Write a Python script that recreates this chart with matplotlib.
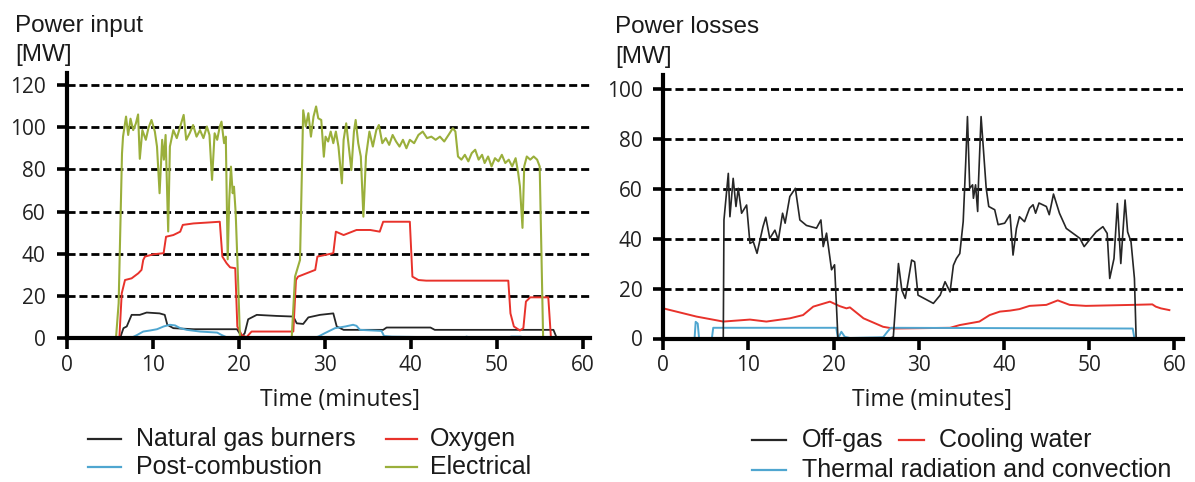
import matplotlib
matplotlib.use('Agg')
from matplotlib import pyplot as plt
from matplotlib.lines import Line2D

W, H = 1195, 482

# --- power input (left panel) ---
gas_t = [6.2, 6.6, 6.98, 7.55, 8.5, 9.3, 10.8, 11.4, 11.7, 12.4, 14.75, 19.8, 20.35, 20.7, 21.1,
         22.1, 24.4, 26.35, 26.75, 27.5, 28.1, 29.45, 31.0, 31.4, 32.2, 36.8, 37.2, 42.3, 42.8,
         56.6, 57.0]
gas_v = [0, 4.8, 5.6, 11.1, 11.1, 12.2, 11.8, 11.1, 6.4, 4.8, 4.3, 4.3, 0.8, 2.4, 9.0,
         11.1, 10.6, 10.3, 7.1, 6.8, 9.9, 11.1, 11.8, 5.6, 4.0, 4.0, 5.1, 5.1, 4.0,
         4.0, 0]

post_t = [7.4, 8.2, 8.9, 9.7, 10.5, 11.27, 12.0, 12.6, 13.2, 13.97, 15.5, 17.5, 18.0, 18.6, 19.4,
          28.5, 29.25, 30.0, 31.2, 32.4, 33.3, 33.7, 34.1, 36.6, 36.9, 37.8, 42.8, 43.2, 45.9,
          46.5, 47.2, 50.9, 51.7, 52.8, 53.4, 56.0]
post_v = [0, 1.6, 3.2, 3.7, 4.3, 5.6, 6.4, 6.1, 4.8, 4.0, 3.2, 2.7, 1.6, 0.5, 0,
          0, 0.8, 2.4, 4.8, 5.6, 6.4, 5.9, 4.0, 3.5, 1.1, 0.8, 0.5, 0, 0,
          0.8, 0, 0, 0.8, 0.8, 0, 0]

oxy_t = [6.12, 6.4, 6.78, 7.55, 8.33, 8.7, 8.9, 9.1, 10.1, 11.27, 11.55, 12.4, 13.2, 13.5, 14.75,
         16.3, 17.8, 18.1, 18.6, 19.0, 19.6, 19.84, 20.35, 20.9, 21.5, 26.35, 26.66, 26.9, 28.9,
         29.15, 31.0, 31.3, 32.2, 33.7, 35.3, 36.4, 36.8, 38.4, 39.9, 40.2, 40.9, 41.8, 45.3,
         49.2, 51.35, 51.6, 52.0, 52.7, 53.1, 53.4, 53.9, 56.0, 56.3, 56.8]
oxy_v = [0, 21.3, 27.6, 28.4, 30.8, 32.4, 37.1, 38.7, 39.8, 40.3, 48.1, 48.9, 50.5, 53.7, 54.4,
         54.8, 55.2, 38.7, 35.5, 33.6, 33.2, 5.6, 1.6, 0.5, 3.2, 3.2, 27.6, 29.2, 32.4,
         38.7, 40.3, 50.5, 48.9, 51.3, 51.3, 50.5, 55.2, 55.2, 55.2, 29.2, 27.6, 27.3, 27.3,
         27.3, 27.3, 11.8, 5.6, 3.7, 4.8, 17.4, 19.4, 19.4, 0.8, 0]

elec_t = [5.73, 6.04, 6.43, 6.55, 6.9, 7.15, 7.42, 7.73, 8.04, 8.3, 8.5, 8.8, 9.2, 9.5, 9.86,
          10.25, 10.5, 10.8, 11.1, 11.3, 11.5, 11.8, 12.0, 12.4, 12.8, 13.2, 13.6, 13.9, 14.3,
          14.7, 15.1, 15.5, 15.9, 16.3, 16.6, 16.9, 17.2, 17.5, 17.8, 18.0, 18.3, 18.5, 18.72,
          18.9, 19.1, 19.3, 19.45, 19.65, 19.9, 20.15,
          26.16, 26.55, 27.13, 27.5, 27.8, 28.1, 28.4, 28.7, 29.0, 29.25, 29.6, 29.9, 30.1,
          30.4, 30.7, 31.0, 31.3, 31.6, 32.0, 32.2, 32.5, 32.8, 33.1, 33.4, 33.6, 33.9, 34.2,
          34.5, 34.8, 35.2, 35.6, 36.0, 36.3, 36.7, 37.1, 37.5, 37.9, 38.3, 38.7, 39.1, 39.5,
          39.9, 40.4, 40.9, 41.4, 41.9, 42.4, 42.9, 43.4, 43.9, 44.4, 44.9, 45.2, 45.5, 45.9,
          46.3, 46.7, 47.1, 47.5, 47.9, 48.3, 48.6, 49.0, 49.4, 49.8, 50.2, 50.6, 51.0, 51.4,
          51.8, 52.2, 52.5, 52.7, 53.0, 53.2, 53.5, 53.9, 54.3, 54.7, 55.0, 55.4]
elec_v = [0, 16.6, 87.5, 95.5, 105, 96.3, 104, 98.6, 101.7, 106, 85, 98.6, 94, 99.5, 103.4,
          97.9, 90.8, 68.7, 94, 84.6, 96.3, 50.6, 90.8, 98.6, 94.8, 100.3, 105.8, 94, 97.1,
          101, 95.5, 98.6, 94.8, 100.3, 96.3, 75, 97.1, 94, 100.3, 102.6, 92.4, 95.5, 37.4,
          65.6, 81.3, 68.7, 71.8, 59.3, 30.9, 0,
          0, 29.2, 37.1, 108, 100.3, 106.6, 95.5, 105, 109.8, 104.2, 103.4, 86, 95.5,
          93.2, 97.9, 92.4, 97.9, 90.8, 73.4, 94, 101.8, 90.8, 79.7, 97.9, 103.4, 92.4, 86.1,
          57.6, 86.1, 97.9, 90.8, 98.6, 101, 92.4, 94.8, 91.6, 96.3, 93.2, 90.8, 94, 90,
          94, 92.4, 96.3, 97.9, 94.8, 95.5, 94, 95.5, 93.2, 96.3, 99.5, 97.9, 86.1, 84.6,
          86.9, 83.8, 87.7, 89.3, 84.6, 86.9, 83, 86.1, 81.4, 85.3, 83.8, 86.9, 83, 84.6,
          81.4, 85.3, 78.3, 72, 52.3, 81.4, 86.1, 84.6, 86.1, 84.6, 81.4, 0]

# --- power losses (right panel) ---
offgas_t = [7.04, 7.12, 7.63, 7.82, 8.2, 8.53, 8.8, 9.19, 9.78, 10.17, 10.56, 11.0, 11.7, 12.03,
            12.5, 13.1, 13.5, 14.0, 14.3, 14.85, 15.5, 16.03, 16.8, 17.98, 18.5, 18.77, 19.16,
            19.75, 20.1, 20.5, 26.6, 27.0, 27.6, 28.0, 28.4, 29.15, 29.5, 29.9, 31.7, 32.5,
            33.07, 33.66, 34.05, 34.4, 34.8, 35.2, 35.5, 35.7, 35.97, 36.3, 36.4, 36.65, 36.9,
            37.0, 37.3, 37.9, 38.2, 38.9, 39.3, 40.07, 40.7, 41.05, 41.45, 41.8, 42.4, 42.99,
            43.4, 43.7, 44.1, 44.96, 45.3, 45.8, 46.5, 47.3, 48.1, 48.9, 49.4, 50.0, 50.8, 51.6,
            52.1, 52.4, 52.9, 53.3, 53.7, 54.2, 54.5, 54.9, 55.3, 55.5]
offgas_v = [0, 47.6, 66.3, 48.9, 64.3, 53, 60.3, 50.3, 53.6, 38.2, 38.9, 34.2, 44.9, 48.7,
            40.2, 43.5, 39.5, 50.3, 46.3, 57, 60.3, 47.6, 45.4, 44.3, 47.6, 36.9, 42.3,
            27.6, 29.6, 0, 0, 0.7, 30.1, 19.4, 16.1, 31.5, 30.8, 17.4, 14.1, 17.4,
            22.8, 18.7, 29.4, 32.1, 34.1, 46.9, 71, 89.1, 60.3, 61.7, 56.3, 61.7, 51,
            63, 89.1, 60.3, 53, 51.7, 45.7, 46.3, 49.7, 33.5, 44.2, 48.9, 46.9, 52.3,
            53.7, 50.3, 54.4, 53, 49.7, 58, 50.3, 44.2, 42.2, 40.2, 36.9, 39.5, 42.8, 44.9,
            42.2, 24.1, 32.1, 54.2, 30.1, 55.6, 42.8, 38.8, 24.1, 0]

cooling_t = [0, 3.9, 7.04, 10.17, 12.1, 14.85, 16.4, 17.6, 19.56, 20.7, 21.5, 21.9, 23.5, 25.8,
             27.0, 33.66, 34.8, 37.1, 38.3, 39.5, 40.7, 41.8, 42.99, 44.96, 46.3, 47.7, 49.6,
             55.1, 57.4, 57.8, 58.4, 59.4]
cooling_v = [12.1, 8.8, 6.8, 7.6, 6.8, 8.1, 9.4, 12.8, 14.8, 13.0, 12.1, 12.5, 8.1, 4.7,
             4.0, 4.3, 5.4, 6.8, 9.4, 10.8, 11.2, 11.8, 13.1, 13.5, 15.3, 13.5, 13.1,
             13.5, 13.7, 12.8, 12.1, 11.4]

thermal_t = [3.67, 3.8, 4.04, 4.2, 5.7, 5.86, 20.3, 20.5, 20.9, 21.3, 21.9, 25.8, 26.3, 26.7,
             55.1, 55.3]
thermal_v = [0, 6.7, 6.0, 0, 0, 4.3, 4.3, 0, 2.7, 0.7, 0.2, 0.5, 2.7, 4.3,
             4.0, 0]

BLACK = '#262626'
BLUE = '#4fa6d0'
RED = '#e8322b'
GREEN = '#9aaf3b'

TICK_FONT = 'Open Sans'
TEXT_FONT = 'Liberation Sans'


def px(x, y):
    # pixel position (from top-left) to figure fraction
    return x / W, 1 - y / H


def style_axes(ax, xmax, ymax, yticks):
    ax.set_xlim(0, xmax)
    ax.set_ylim(0, ymax)
    ax.set_xticks(range(0, 61, 10))
    ax.set_yticks(yticks)
    for y in yticks[1:]:
        ax.axhline(y, color='black', lw=2.0, ls=(0, (2.9, 1.4)), zorder=1)
    ax.spines['top'].set_visible(False)
    ax.spines['right'].set_visible(False)
    for side in ('left', 'bottom'):
        ax.spines[side].set_linewidth(3.0)
        ax.spines[side].set_color('black')
        ax.spines[side].set_zorder(5)
    ax.tick_params(axis='x', direction='out', length=8, width=2.6, pad=4,
                   labelsize=15, color='black')
    ax.tick_params(axis='y', direction='out', length=7, width=2.6, pad=8,
                   labelsize=15, color='black')
    for lab in ax.get_xticklabels() + ax.get_yticklabels():
        lab.set_fontfamily(TICK_FONT)
        lab.set_color('#222222')
    ax.patch.set_alpha(0)


def legend_entry(x0, x1, xt, y, color, label):
    fx0, fy = px(x0, y)
    fx1, _ = px(x1, y)
    fig.add_artist(Line2D([fx0, fx1], [fy, fy], color=color, lw=1.6,
                          transform=fig.transFigure))
    fig.text(px(xt, y)[0], fy, label, fontsize=18, family=TEXT_FONT,
             va='center', ha='left', color='#1a1a1a')


fig = plt.figure(figsize=(W / 100, H / 100), dpi=100)

# left panel: power input
ax1 = fig.add_axes([66.7 / W, (H - 338.3) / H, 523.3 / W, 265 / H])
ax1.plot(gas_t, gas_v, color=BLACK, lw=1.3, zorder=3)
ax1.plot(post_t, post_v, color=BLUE, lw=1.4, zorder=3)
ax1.plot(oxy_t, oxy_v, color=RED, lw=1.4, zorder=3)
ax1.plot(elec_t, elec_v, color=GREEN, lw=1.5, zorder=3)
style_axes(ax1, 60.85, 125.5, list(range(0, 121, 20)))
ax1.set_xlabel('Time (minutes]', fontsize=16.5, family=TICK_FONT, va='center', color='#1a1a1a')
ax1.xaxis.set_label_coords(0.522, -0.233)

# right panel: power losses
ax2 = fig.add_axes([663.3 / W, (H - 338.5) / H, 519.7 / W, 263.5 / H])
ax2.plot(cooling_t, cooling_v, color=RED, lw=1.4, zorder=3)
ax2.plot(thermal_t, thermal_v, color=BLUE, lw=1.4, zorder=3)
ax2.plot(offgas_t, offgas_v, color=BLACK, lw=1.2, zorder=4)
style_axes(ax2, 61.0, 105.8, list(range(0, 101, 20)))
ax2.set_xlabel('Time (minutes]', fontsize=16.5, family=TICK_FONT, va='center', color='#1a1a1a')
ax2.xaxis.set_label_coords(0.517, -0.233)

# panel titles with units
for x, y, s in [(15, 31.7, 'Power input'), (15, 61.5, '[MW]'),
                (615, 33.3, 'Power losses'), (615, 63.3, '[MW]')]:
    fig.text(*px(x, y), s, fontsize=17.5, family=TEXT_FONT, va='baseline',
             ha='left', color='#1a1a1a')

# legends
legend_entry(88, 121, 136, 439, BLACK, 'Natural gas burners')
legend_entry(88, 121, 136, 467, BLUE, 'Post-combustion')
legend_entry(386, 417, 430, 439, RED, 'Oxygen')
legend_entry(386, 417, 430, 467, GREEN, 'Electrical')

legend_entry(752, 786, 802, 440, BLACK, 'Off-gas')
legend_entry(899, 924, 939, 440, RED, 'Cooling water')
legend_entry(752, 786, 802, 470, BLUE, 'Thermal radiation and convection')

fig.savefig('out.png', dpi=100)
